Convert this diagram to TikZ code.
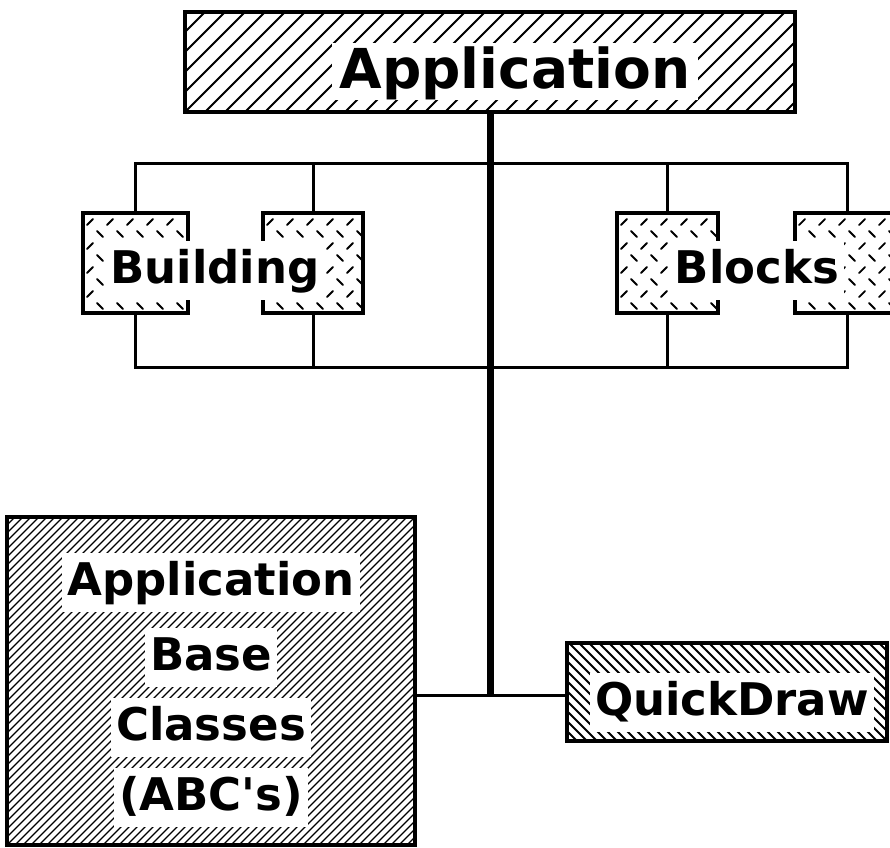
\documentclass[tikz,border=0pt]{standalone}
\usepackage{fontspec}
\setmainfont{DejaVu Sans}
\begin{document}
\begin{tikzpicture}[x=1pt,y=-1pt,
  box/.style={draw=black, line width=3.5pt, rectangle, inner sep=0pt},
  hatchline/.style={line width=2pt},
  densehatch/.style={line width=1.2pt},
  platedash/.style={line width=1.8pt, line cap=round},
  lbl/.style={fill=white, font=\bfseries\fontsize{45}{50}\selectfont, text height=35pt, text depth=10pt, inner xsep=5pt, inner ysep=7pt, anchor=base},
  biglbl/.style={fill=white, font=\bfseries\fontsize{55}{60}\selectfont, text height=40pt, text depth=7pt, inner xsep=8pt, inner ysep=5pt, anchor=base},
  bar/.style={line width=3pt},
  trunk/.style={line width=7pt},
]
\useasboundingbox (0,0) rectangle (890,847);

% ---------- boxes ----------
\node[box, minimum width=610pt, minimum height=100pt] (app) at (490,62) {};
\node[box, minimum width=105pt, minimum height=100pt] (b1) at (135.5,263) {};
\node[box, minimum width=100pt, minimum height=100pt] (b2) at (313,263) {};
\node[box, minimum width=101pt, minimum height=100pt] (k1) at (667.5,263) {};
\node[box, minimum width=104pt, minimum height=100pt] (k2) at (847,263) {};
\node[box, minimum width=408pt, minimum height=328pt] (abc) at (211,681) {};
\node[box, minimum width=320pt, minimum height=98pt] (qd) at (727,692) {};

% ---------- hatching ----------
\begin{scope}
  \clip (app.south west) rectangle (app.north east);
  \foreach \c in {85,105,...,800} \draw[hatchline] (\c,112) -- ++(100,-100);
\end{scope}

\begin{scope}
  \clip (abc.south west) rectangle (abc.north east);
  \foreach \c in {-321,-313,...,420} \draw[densehatch] (\c,845) -- ++(328,-328);
\end{scope}

\begin{scope}
  \clip (qd.south west) rectangle (qd.north east);
  \foreach \c in {469,479,...,890} \draw[hatchline] (\c,643) -- ++(98,98);
\end{scope}

\foreach \bx/\by/\bn in {83/213/b1, 263/213/b2, 617/213/k1, 795/213/k2} {
  \begin{scope}
    \clip (\bn.south west) rectangle (\bn.north east);
    \foreach \r in {0,2,4,6}
      \foreach \xx in {0,20,...,120}
        \draw[platedash] ({\bx+\xx+4},{\by+12+12*\r}) -- ++(6,-6);
    \foreach \r in {1,3,5,7}
      \foreach \xx in {0,20,...,120}
        \draw[platedash] ({\bx+\xx+14},{\by+6+12*\r}) -- ++(6,6);
  \end{scope}
}

% ---------- connectors ----------
\coordinate (tb) at (490,163);
\coordinate (bb) at (490,367);
\coordinate (hub) at (490,695);

\draw[bar] (b1.north) -- (b1.north |- tb) -- (k2.north |- tb) -- (k2.north);
\draw[bar] (b2.north) -- (b2.north |- tb);
\draw[bar] (k1.north) -- (k1.north |- tb);
\draw[bar] (b1.south) -- (b1.south |- bb) -- (k2.south |- bb) -- (k2.south);
\draw[bar] (b2.south) -- (b2.south |- bb);
\draw[bar] (k1.south) -- (k1.south |- bb);

\draw[trunk] (app.south) -- (hub);
\draw[bar] (hub -| abc.east) -- (hub -| qd.west);

% ---------- labels ----------
\node[biglbl] (tapp) at (515,88) {Application};
\node[lbl] (tbuild) at (215,283) {Building};
\node[lbl] (tblock) at (757,283) {Blocks};
\node[lbl] (abc1) at (211,595) {Application};
\node[lbl] (abc2) at (211,670) {Base};
\node[lbl] (abc3) at (211,740) {Classes};
\node[lbl] (abc4) at (211,810) {(ABC\textquotesingle s)};
\node[lbl] (tqd) at (732,715) {QuickDraw};
\end{tikzpicture}
\end{document}
